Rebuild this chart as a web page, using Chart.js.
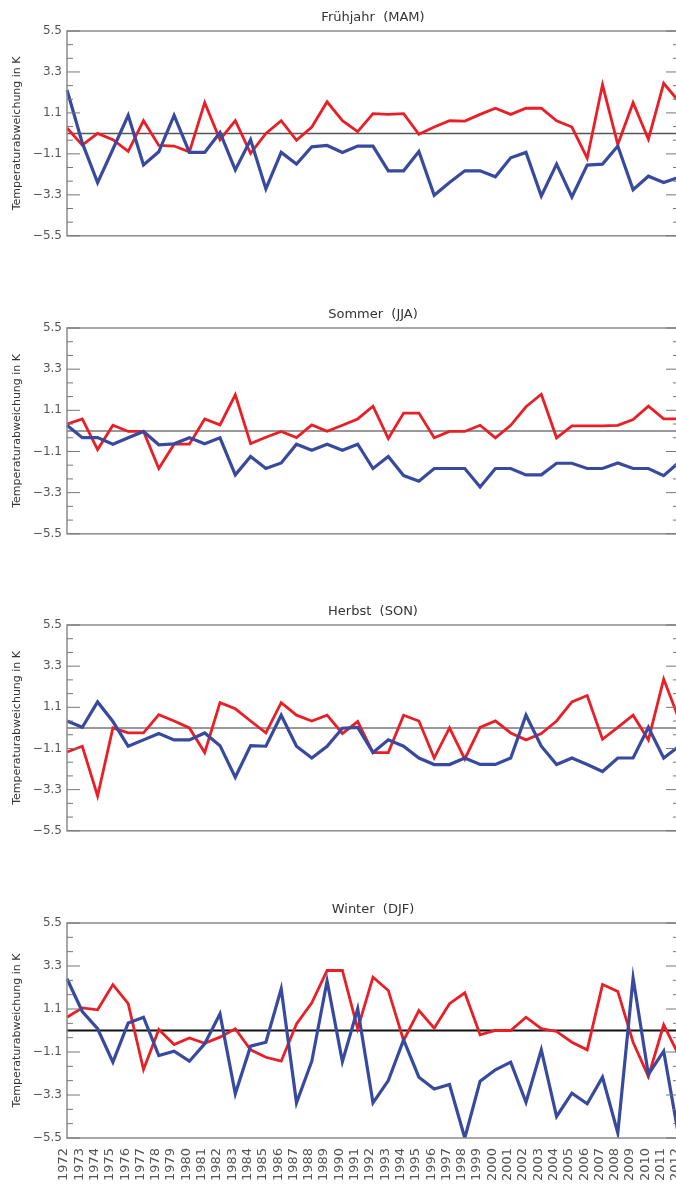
<!DOCTYPE html>
<html>
<head>
<meta charset="utf-8">
<script src="https://cdn.jsdelivr.net/npm/chart.js@4.4.0/dist/chart.umd.min.js"></script>
<style>
  html, body { margin: 0; padding: 0; background: #fff; overflow: hidden; }
  body { width: 676px; height: 1187px; position: relative; }
  canvas { position: absolute; left: 0; }
</style>
</head>
<body>
<canvas id="mam"></canvas>
<canvas id="jja"></canvas>
<canvas id="son"></canvas>
<canvas id="djf"></canvas>
<script>
const years = ['1972','1973','1974','1975','1976','1977','1978','1979','1980','1981',
  '1982','1983','1984','1985','1986','1987','1988','1989','1990','1991','1992','1993',
  '1994','1995','1996','1997','1998','1999','2000','2001','2002','2003','2004','2005',
  '2006','2007','2008','2009','2010','2011','2012']

const yTicks = [5.5, 3.3, 1.1, -1.1, -3.3, -5.5]

// Frühjahr
const mamRed = [0.29, -0.63, 0.0, -0.34, -0.97, 0.68, -0.65, -0.68, -0.99, 1.65, -0.34, 0.68,
  -1.07, 0.0, 0.68, -0.37, 0.34, 1.70, 0.68, 0.09, 1.06, 1.02, 1.06, -0.05, 0.34, 0.68, 0.66,
  1.02, 1.35, 1.02, 1.35, 1.35, 0.68, 0.34, -1.33, 2.61, -0.60, 1.65, -0.31, 2.69, 1.70]
const mamBlue = [2.33, -0.51, -2.64, -0.85, 0.97, -1.70, -0.99, 0.97, -1.02, -1.02, 0.05, -1.96,
  -0.34, -2.98, -1.02, -1.65, -0.72, -0.65, -1.02, -0.68, -0.68, -2.01, -2.01, -0.97, -3.32,
  -2.64, -2.01, -2.01, -2.33, -1.31, -1.02, -3.36, -1.65, -3.41, -1.70, -1.65, -0.68, -3.02,
  -2.30, -2.64, -2.35]

// Sommer
const jjaRed = [0.36, 0.64, -1.0, 0.30, -0.03, -0.03, -2.01, -0.71, -0.71, 0.64, 0.32, 1.93,
  -0.68, -0.34, -0.03, -0.36, 0.32, -0.02, 0.30, 0.64, 1.32, -0.41, 0.95, 0.95, -0.37, -0.03,
  -0.03, 0.30, -0.37, 0.30, 1.29, 1.96, -0.37, 0.27, 0.27, 0.27, 0.30, 0.61, 1.32, 0.64, 0.64]
const jjaBlue = [0.30, -0.36, -0.36, -0.71, -0.37, -0.03, -0.74, -0.69, -0.37, -0.69, -0.37,
  -2.35, -1.37, -2.01, -1.71, -0.71, -1.03, -0.71, -1.03, -0.71, -2.01, -1.37, -2.39, -2.69,
  -2.01, -2.01, -2.01, -3.0, -2.01, -2.01, -2.35, -2.35, -1.73, -1.73, -2.01, -2.01, -1.71,
  -2.01, -2.01, -2.39, -1.68]

// Herbst
const sonRed = [-1.29, -0.98, -3.64, 0.0, -0.27, -0.27, 0.71, 0.37, 0.0, -1.32, 1.35, 1.02,
  0.37, -0.27, 1.35, 0.68, 0.37, 0.68, -0.30, 0.34, -1.32, -1.32, 0.68, 0.37, -1.61, 0.0,
  -1.66, 0.03, 0.37, -0.27, -0.64, -0.30, 0.37, 1.39, 1.73, -0.61, 0.03, 0.68, -0.64, 2.61, 0.46]
const sonBlue = [0.37, 0.03, 1.39, 0.34, -0.98, -0.64, -0.30, -0.64, -0.64, -0.27, -0.95, -2.64,
  -0.95, -0.98, 0.68, -0.98, -1.61, -0.98, -0.02, 0.03, -1.32, -0.64, -0.98, -1.61, -1.96,
  -1.96, -1.61, -1.95, -1.95, -1.61, 0.68, -0.98, -1.96, -1.61, -1.96, -2.33, -1.61, -1.61,
  0.03, -1.61, -0.98]

// Winter
const djfRed = [0.68, 1.16, 1.06, 2.35, 1.37, -2.0, 0.05, -0.72, -0.38, -0.65, -0.34, 0.09,
  -0.99, -1.37, -1.57, 0.34, 1.42, 3.07, 3.07, 0.09, 2.73, 2.05, -0.51, 1.02, 0.12, 1.37, 1.93,
  -0.22, 0.0, 0.0, 0.68, 0.09, -0.05, -0.60, -0.99, 2.35, 2.0, -0.60, -2.35, 0.29, -1.28]
const djfBlue = [2.65, 0.97, 0.09, -1.62, 0.39, 0.68, -1.28, -1.06, -1.57, -0.68, 0.85, -3.24,
  -0.80, -0.60, 2.13, -3.70, -1.57, 2.53, -1.59, 1.11, -3.70, -2.56, -0.48, -2.39, -2.99, -2.76,
  -5.5, -2.59, -2.01, -1.62, -3.67, -0.99, -4.40, -3.21, -3.75, -2.39, -5.24, 2.68, -2.25,
  -1.06, -5.5]

const RED = 'rgb(234, 30, 38)'
const BLUE = 'rgb(56, 74, 158)'
const FONT = '"DejaVu Sans", sans-serif'

const panels = [
  { id: 'mam', title: 'Frühjahr  (MAM)', red: mamRed, blue: mamBlue, top: 31, plotH: 215, zero: '#555', zeroW: 1.5, xLabels: false },
  { id: 'jja', title: 'Sommer  (JJA)', red: jjaRed, blue: jjaBlue, top: 328, plotH: 216, zero: '#777', zeroW: 1.5, xLabels: false },
  { id: 'son', title: 'Herbst  (SON)', red: sonRed, blue: sonBlue, top: 625, plotH: 216, zero: '#777', zeroW: 1.5, xLabels: false },
  { id: 'djf', title: 'Winter  (DJF)', red: djfRed, blue: djfBlue, top: 923, plotH: 215, zero: '#111', zeroW: 2, xLabels: true }
]

const TITLE_SPACE = 30
const CANVAS_W = 700
const PLOT_LEFT = 67
const PLOT_RIGHT = 679

const strokeLine = (ctx, x1, y1, x2, y2) => {
  ctx.beginPath()
  ctx.moveTo(x1, y1)
  ctx.lineTo(x2, y2)
  ctx.stroke()
}

// zero line under the series, box + inward ticks + heading on top
const framePlugin = {
  id: 'frame',
  beforeDatasetsDraw(chart, args, opts) {
    const { ctx, chartArea: a, scales: { y } } = chart
    const y0 = y.getPixelForValue(0)
    ctx.save()
    ctx.strokeStyle = opts.zero
    ctx.lineWidth = opts.zeroW
    strokeLine(ctx, a.left, y0, a.right, y0)
    ctx.restore()
  },
  afterDraw(chart, args, opts) {
    const { ctx, chartArea: a, scales: { y } } = chart
    ctx.save()
    ctx.strokeStyle = '#8c8c8c'
    ctx.lineWidth = 1.5
    ctx.strokeRect(a.left, a.top, a.right - a.left, a.bottom - a.top)

    ctx.lineWidth = 1
    ctx.strokeStyle = '#777'
    yTicks.forEach((v, i) => {
      const py = y.getPixelForValue(v)
      strokeLine(ctx, a.left, py, a.left + 13, py)
      strokeLine(ctx, a.right - 13, py, a.right, py)
      const next = yTicks[i + 1]
      if (next === undefined) return
      for (let k = 1; k < 3; k++) {
        const my = y.getPixelForValue(v + (next - v) * k / 3)
        strokeLine(ctx, a.left, my, a.left + 6, my)
        strokeLine(ctx, a.right - 6, my, a.right, my)
      }
    })

    ctx.fillStyle = '#333'
    ctx.font = '13px ' + FONT
    ctx.textAlign = 'center'
    ctx.textBaseline = 'middle'
    ctx.fillText(opts.title, (a.left + a.right) / 2, a.top - 13)
    ctx.restore()
  }
}

document.addEventListener('DOMContentLoaded', function() {
  panels.forEach(p => {
    const el = document.getElementById(p.id)
    const xHeight = p.xLabels ? 60 : 2
    el.width = CANVAS_W
    el.height = TITLE_SPACE + p.plotH + xHeight
    el.style.top = (p.top - TITLE_SPACE) + 'px'

    new Chart(el, {
      type: 'line',
      data: {
        labels: years,
        datasets: [
          { data: p.blue, borderColor: BLUE, borderWidth: 3.2 },
          { data: p.red, borderColor: RED, borderWidth: 2.8 }
        ]
      },
      options: {
        responsive: false,
        animation: false,
        devicePixelRatio: 1,
        layout: { padding: { top: TITLE_SPACE, right: CANVAS_W - PLOT_RIGHT, left: 0, bottom: 0 } },
        elements: { point: { radius: 0 }, line: { tension: 0 } },
        plugins: {
          legend: { display: false },
          tooltip: { enabled: false },
          frame: { title: p.title, zero: p.zero, zeroW: p.zeroW }
        },
        scales: {
          x: {
            grid: { display: false, drawTicks: false },
            border: { display: false },
            afterFit: s => {
              s.height = xHeight
              s.paddingLeft = 0
              s.paddingRight = 0
            },
            ticks: {
              display: p.xLabels,
              autoSkip: false,
              maxRotation: 90,
              minRotation: 90,
              padding: 10,
              labelOffset: -3,
              color: '#555',
              font: { family: FONT, size: 13 }
            }
          },
          y: {
            min: -5.5,
            max: 5.5,
            grid: { display: false, drawTicks: false },
            border: { display: false },
            afterFit: s => { s.width = PLOT_LEFT },
            afterBuildTicks: s => { s.ticks = yTicks.map(v => ({ value: v })) },
            ticks: {
              padding: 5,
              color: '#555',
              font: { family: FONT, size: 12 },
              callback: v => v.toFixed(1).replace('-', '\u2212')
            },
            title: {
              display: true,
              text: 'Temperaturabweichung in K',
              color: '#333',
              padding: { top: 11, bottom: 0 },
              font: { family: FONT, size: 11 }
            }
          }
        }
      },
      plugins: [framePlugin]
    })
  })
})
</script>
</body>
</html>
